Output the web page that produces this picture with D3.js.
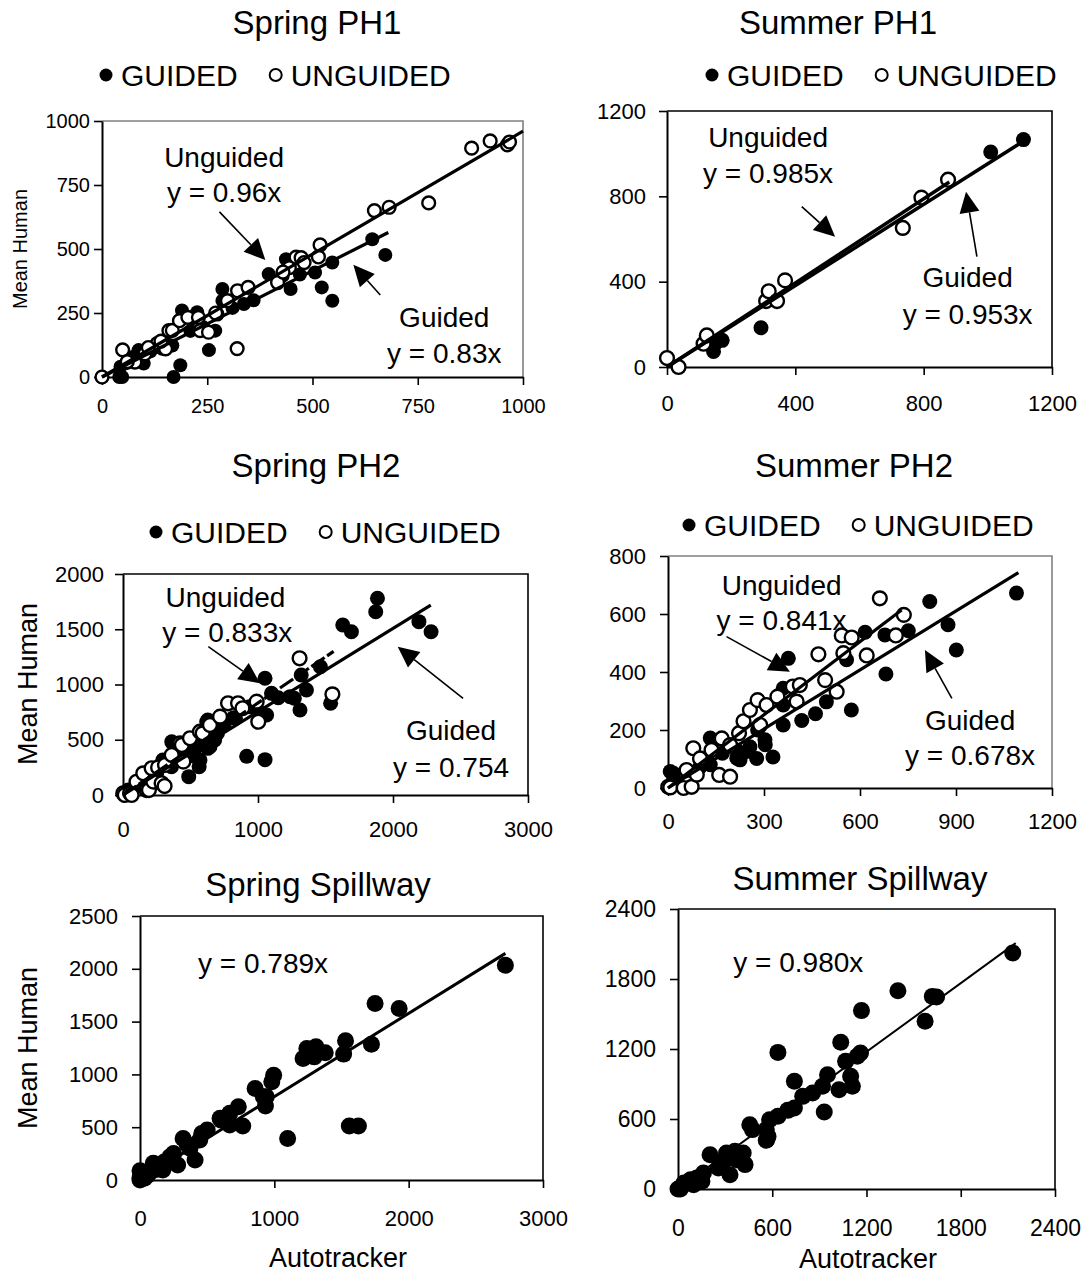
<!DOCTYPE html>
<html>
<head>
<meta charset="utf-8">
<script src="https://cdn.jsdelivr.net/npm/d3@7/dist/d3.min.js"></script>
<style>
  body { margin: 0; background: #fff; }
  text { font-family: "Liberation Sans", Arial, sans-serif; fill: #000; }
</style>
</head>
<body>
<svg width="1086" height="1275"></svg>
<script>
// ---- data (autotracker count, mean human count) ----
const springPH1Guided = [[0,0],[41,0],[48,0],[44,40],[75,79],[99,53],[87,105],[143,110],[167,123],[170,0],[186,46],
  [254,105],[190,260],[226,253],[246,182],[241,194],[269,181],[286,344],[298,298],[286,298],[337,285],[396,402],
  [429,395],[448,344],[437,460],[506,408],[522,350],[547,447],[547,298],[642,538],[673,477],
  [60,55],[115,100],[130,120],[210,180],[310,270],[360,300],[470,400]];
const springPH1Unguided = [[0,0],[49,106],[78,58],[102,91],[131,130],[151,110],[159,181],[167,182],[184,220],[204,233],
  [229,233],[233,181],[253,175],[273,246],[298,298],[321,111],[322,337],[347,350],[417,369],[445,427],[461,468],
  [473,466],[480,447],[514,469],[518,516],[647,650],[682,663],[776,680],[878,894],[922,922],[963,907],[968,918],
  [60,60],[110,115],[140,140],[270,250],[430,410]];
const springPH1Fits = [{slope: 0.96, xEnd: 1000}, {slope: 0.83, xEnd: 680}];

const summerPH1Guided = [[145,73],[150,109],[172,125],[293,184],[1009,1008],[1111,1066]];
const summerPH1Unguided = [[0,42],[36,0],[114,109],[124,148],[309,309],[317,355],[343,309],[368,406],[735,652],[793,794],[876,878]];
const summerPH1Fits = [{slope: 0.985, xEnd: 880}, {slope: 0.953, xEnd: 1110}];

const springPH2Guided = [[13,15],[38,45],[100,80],[167,196],[250,200],[295,317],[359,256],[361,481],[372,468],[450,380],
  [487,166],[520,400],[546,437],[564,256],[570,317],[600,500],[620,662],[628,679],[628,422],[644,437],[679,498],
  [700,560],[731,679],[833,694],[916,350],[936,799],[1000,760],[1052,1056],[1064,724],[1052,320],[1237,890],
  [1269,875],[1311,769],[1320,1086],[1359,950],[1462,1161],[1538,830],[1628,1538],[1692,1478],[1872,1659],
  [1885,1780],[2192,1569],[2282,1478],
  [400,330],[480,420],[530,350],[580,460],[650,560],[750,640],[820,700],[1100,920],[1150,880]];
const springPH2Unguided = [[2,15],[13,0],[52,15],[64,0],[100,120],[150,196],[175,45],[192,45],[212,242],[225,121],
  [260,250],[286,106],[308,81],[311,272],[361,362],[422,467],[436,452],[447,302],[496,513],[570,573],[590,558],
  [644,634],[719,709],[778,830],[852,830],[885,785],[990,845],[1002,663],[1308,1237],[1551,911]];
const springPH2Fits = [{slope: 0.833, xEnd: 1560, dashed: true}, {slope: 0.754, xEnd: 2280}];

const summerPH2Guided = [[7,57],[17,51],[18,34],[100,73],[121,97],[132,80],[132,172],[141,160],[170,120],[214,131],
  [215,103],[225,97],[246,126],[256,142],[277,102],[280,200],[303,166],[304,149],[328,107],[360,217],[360,286],
  [360,344],[376,447],[418,233],[461,256],[495,297],[558,442],[573,269],[616,537],[678,528],[681,393],[751,542],
  [818,643],[875,563],[901,476],[1089,672]];
const summerPH2Unguided = [[1,4],[7,2],[49,0],[58,62],[74,4],[79,137],[90,46],[100,102],[136,131],[160,45],[168,171],
  [194,148],[194,39],[222,189],[236,230],[256,269],[280,303],[288,217],[308,286],[342,315],[390,350],[402,298],
  [412,355],[470,461],[491,372],[527,332],[543,526],[548,465],[574,519],[621,457],[662,654],[712,526],[737,597]];
const summerPH2Fits = [{slope: 0.841, xEnd: 730}, {slope: 0.678, xEnd: 1095}];

const springSpillway = [[0,0],[0,20],[0,88],[33,16],[60,47],[99,158],[115,126],[170,95],[223,221],[280,142],[321,394],
  [372,300],[410,189],[445,378],[500,473],[596,584],[604,567],[668,631],[668,520],[732,694],[765,512],[857,867],
  [918,789],[934,700],[940,788],[981,930],[995,993],[1099,394],[1214,1151],[1242,1245],[1297,1166],[1310,1261],
  [1379,1204],[1516,1192],[1530,1318],[1558,511],[1626,511],[1723,1286],[1750,1671],[1929,1624],[2720,2033],
  [120,100],[180,170],[250,250],[350,340],[460,440]];
const springSpillwayFits = [{slope: 0.789, xEnd: 2720}];

const summerSpillway = [[0,0],[15,0],[36,37],[38,51],[78,66],[80,80],[99,37],[120,94],[152,66],[162,137],[204,294],
  [257,180],[269,194],[288,237],[309,309],[331,123],[332,266],[362,323],[373,251],[415,309],[427,209],[457,551],
  [474,509],[562,509],[564,422],[573,451],[562,417],[583,594],[636,623],[636,1171],[699,674],[741,694],[741,923],
  [794,794],[857,823],[920,880],[931,660],[952,980],[1025,851],[1036,1257],[1067,1094],[1099,966],[1110,880],
  [1141,1137],[1162,1166],[1168,1529],[1400,1700],[1573,1437],[1619,1651],[1646,1646],[2131,2023]];
const summerSpillwayFits = [{slope: 0.980, xEnd: 2150}];

const ticksPH1 = [0, 250, 500, 750, 1000];
const ticks1200 = [0, 400, 800, 1200];
const ticks3000 = [0, 1000, 2000, 3000];
const ticksPH2Y = [0, 500, 1000, 1500, 2000];
const ticks1200b = [0, 300, 600, 900, 1200];
const ticks800 = [0, 200, 400, 600, 800];
const ticks2500 = [0, 500, 1000, 1500, 2000, 2500];
const ticks2400 = [0, 600, 1200, 1800, 2400];

const svg = d3.select('svg');

function arrow(g, x1, y1, x2, y2, len, half) {
  const a = Math.atan2(y2 - y1, x2 - x1);
  const bx = x2 - len * Math.cos(a), by = y2 - len * Math.sin(a);
  g.append('line').attr('x1', x1).attr('y1', y1).attr('x2', bx).attr('y2', by)
    .attr('stroke', '#000').attr('stroke-width', 1.6);
  const px = -Math.sin(a) * half, py = Math.cos(a) * half;
  g.append('path')
    .attr('d', `M${x2},${y2}L${bx + px},${by + py}L${bx - px},${by - py}Z`)
    .attr('fill', '#000');
}

function legend(g, lx, ly) {
  const fs = 30;
  g.append('circle').attr('cx', lx + 6).attr('cy', ly).attr('r', 6.5).attr('fill', '#000');
  const t1 = g.append('text').attr('x', lx + 21).attr('y', ly).attr('dy', '0.36em')
    .attr('font-size', fs).text('GUIDED');
  const w1 = t1.node().getComputedTextLength();
  const ox = lx + 21 + w1 + 38;
  g.append('circle').attr('cx', ox).attr('cy', ly).attr('r', 6).attr('fill', '#fff')
    .attr('stroke', '#000').attr('stroke-width', 2);
  g.append('text').attr('x', ox + 15).attr('y', ly).attr('dy', '0.36em')
    .attr('font-size', fs).text('UNGUIDED');
}

function drawPanel(p) {
  const x = d3.scaleLinear().domain([0, p.xTicks[p.xTicks.length - 1]]).range([p.left, p.right]);
  const y = d3.scaleLinear().domain([0, p.yTicks[p.yTicks.length - 1]]).range([p.bottom, p.top]);
  const g = svg.append('g');

  g.append('text').attr('x', p.titleX).attr('y', p.titleY).attr('dy', '0.36em')
    .attr('text-anchor', 'middle').attr('font-size', 33).text(p.title);
  if (p.legend) legend(g, p.legend[0], p.legend[1]);

  // plot area border (top / right)
  g.append('path').attr('d', `M${p.left},${p.top}H${p.right}V${p.bottom}`)
    .attr('fill', 'none').attr('stroke', p.frame).attr('stroke-width', 1.6);

  const fmt = d3.format('d');
  const yAxis = g.append('g').attr('transform', `translate(${p.left},0)`)
    .call(d3.axisLeft(y).tickValues(p.yTicks).tickFormat(fmt).tickSize(8).tickSizeOuter(0).tickPadding(p.yPad));
  const xAxis = g.append('g').attr('transform', `translate(0,${p.bottom})`)
    .call(d3.axisBottom(x).tickValues(p.xTicks).tickFormat(fmt).tickSize(8).tickSizeOuter(0).tickPadding(p.xPad));
  [yAxis, xAxis].forEach(a => {
    a.select('.domain').attr('stroke', '#000').attr('stroke-width', 2);
    a.selectAll('.tick line').attr('stroke', '#000').attr('stroke-width', 1.6);
    a.selectAll('.tick text').attr('font-size', p.tickFont)
      .style('font-family', '"Liberation Sans", Arial, sans-serif');
  });

  if (p.yLabel) {
    g.append('text').attr('transform', `translate(${p.yLabel[0]},${p.yLabel[1]}) rotate(-90)`)
      .attr('dy', '0.36em').attr('text-anchor', 'middle').attr('font-size', p.yLabel[2]).text('Mean Human');
  }
  if (p.xLabel) {
    g.append('text').attr('x', p.xLabel[0]).attr('y', p.xLabel[1]).attr('dy', '0.36em')
      .attr('text-anchor', 'middle').attr('font-size', 27).text('Autotracker');
  }

  // points: guided (filled) then unguided (open)
  g.append('g').selectAll('circle').data(p.filled).join('circle')
    .attr('cx', d => x(d[0])).attr('cy', d => y(d[1])).attr('r', p.r).attr('fill', '#000');
  if (p.open) {
    g.append('g').selectAll('circle').data(p.open).join('circle')
      .attr('cx', d => x(d[0])).attr('cy', d => y(d[1])).attr('r', p.r - 0.6)
      .attr('fill', '#fff').attr('stroke', '#000').attr('stroke-width', 2.4);
  }

  // fitted lines through the origin
  p.fits.forEach(f => {
    g.append('path')
      .attr('d', d3.line()([[x(0), y(0)], [x(f.xEnd), y(f.slope * f.xEnd)]]))
      .attr('stroke', '#000').attr('stroke-width', p.lineW)
      .attr('stroke-dasharray', f.dashed ? '16,3' : null);
  });

  p.notes.forEach(n => {
    g.append('text').attr('x', x(n[1])).attr('y', y(n[2])).attr('dy', '0.36em')
      .attr('text-anchor', 'middle').attr('font-size', 28).text(n[0]);
  });
  (p.arrows || []).forEach(a => arrow(g, x(a[0]), y(a[1]), x(a[2]), y(a[3]), 21, 10));
}

const panels = [
  { title: 'Spring PH1', titleX: 317, titleY: 22, legend: [100, 75],
    left: 102, right: 523, top: 121, bottom: 377, xTicks: ticksPH1, yTicks: ticksPH1,
    frame: '#808080', tickFont: 20, yPad: 4, xPad: 14, r: 7, lineW: 3.2,
    filled: springPH1Guided, open: springPH1Unguided, fits: springPH1Fits, yLabel: [20, 249, 20],
    notes: [['Unguided', 290, 859], ['y = 0.96x', 290, 723], ['Guided', 813, 234], ['y = 0.83x', 813, 94]],
    arrows: [[279, 645, 388, 457], [661, 320, 597, 438]] },
  { title: 'Summer PH1', titleX: 838, titleY: 22, legend: [706, 75],
    left: 667, right: 1052, top: 111, bottom: 367, xTicks: ticks1200, yTicks: ticks1200,
    frame: '#000', tickFont: 22, yPad: 13, xPad: 20, r: 7.5, lineW: 3.5,
    filled: summerPH1Guided, open: summerPH1Unguided, fits: summerPH1Fits,
    notes: [['Unguided', 315, 1078], ['y = 0.985x', 315, 909], ['Guided', 937, 423], ['y = 0.953x', 937, 251]],
    arrows: [[420, 752, 524, 611], [966, 517, 932, 822]] },
  { title: 'Spring PH2', titleX: 316, titleY: 465, legend: [150, 532],
    left: 123, right: 528, top: 574, bottom: 795, xTicks: ticks3000, yTicks: ticksPH2Y,
    frame: '#000', tickFont: 22, yPad: 11, xPad: 18, r: 7.5, lineW: 3.2,
    filled: springPH2Guided, open: springPH2Unguided, fits: springPH2Fits, yLabel: [27, 684, 27],
    notes: [['Unguided', 759, 1795], ['y = 0.833x', 772, 1478], ['Guided', 2430, 588], ['y = 0.754', 2430, 256]],
    arrows: [[632, 1342, 1015, 1011], [2519, 875, 2035, 1342]] },
  { title: 'Summer PH2', titleX: 854, titleY: 465, legend: [683, 525],
    left: 668, right: 1052, top: 556, bottom: 788, xTicks: ticks1200b, yTicks: ticks800,
    frame: '#808080', tickFont: 22, yPad: 14, xPad: 17, r: 7.5, lineW: 3.2,
    filled: summerPH2Guided, open: summerPH2Unguided, fits: summerPH2Fits,
    notes: [['Unguided', 355, 700], ['y = 0.841x', 355, 579], ['Guided', 944, 234], ['y = 0.678x', 944, 114]],
    arrows: [[183, 522, 381, 401], [887, 309, 803, 476]] },
  { title: 'Spring Spillway', titleX: 318, titleY: 884,
    left: 140, right: 543, top: 916, bottom: 1180, xTicks: ticks3000, yTicks: ticks2500,
    frame: '#000', tickFont: 22, yPad: 14, xPad: 22, r: 8.5, lineW: 3,
    filled: springSpillway, fits: springSpillwayFits, yLabel: [27, 1048, 27], xLabel: [338, 1257],
    notes: [['y = 0.789x', 916, 2052]] },
  { title: 'Summer Spillway', titleX: 860, titleY: 878,
    left: 678, right: 1055, top: 909, bottom: 1189, xTicks: ticks2400, yTicks: ticks2400,
    frame: '#000', tickFont: 23, yPad: 14, xPad: 23, r: 8.5, lineW: 2,
    filled: summerSpillway, fits: summerSpillwayFits, xLabel: [868, 1258],
    notes: [['y = 0.980x', 766, 1948]] }
];

panels.forEach(drawPanel);
</script>
</body>
</html>
